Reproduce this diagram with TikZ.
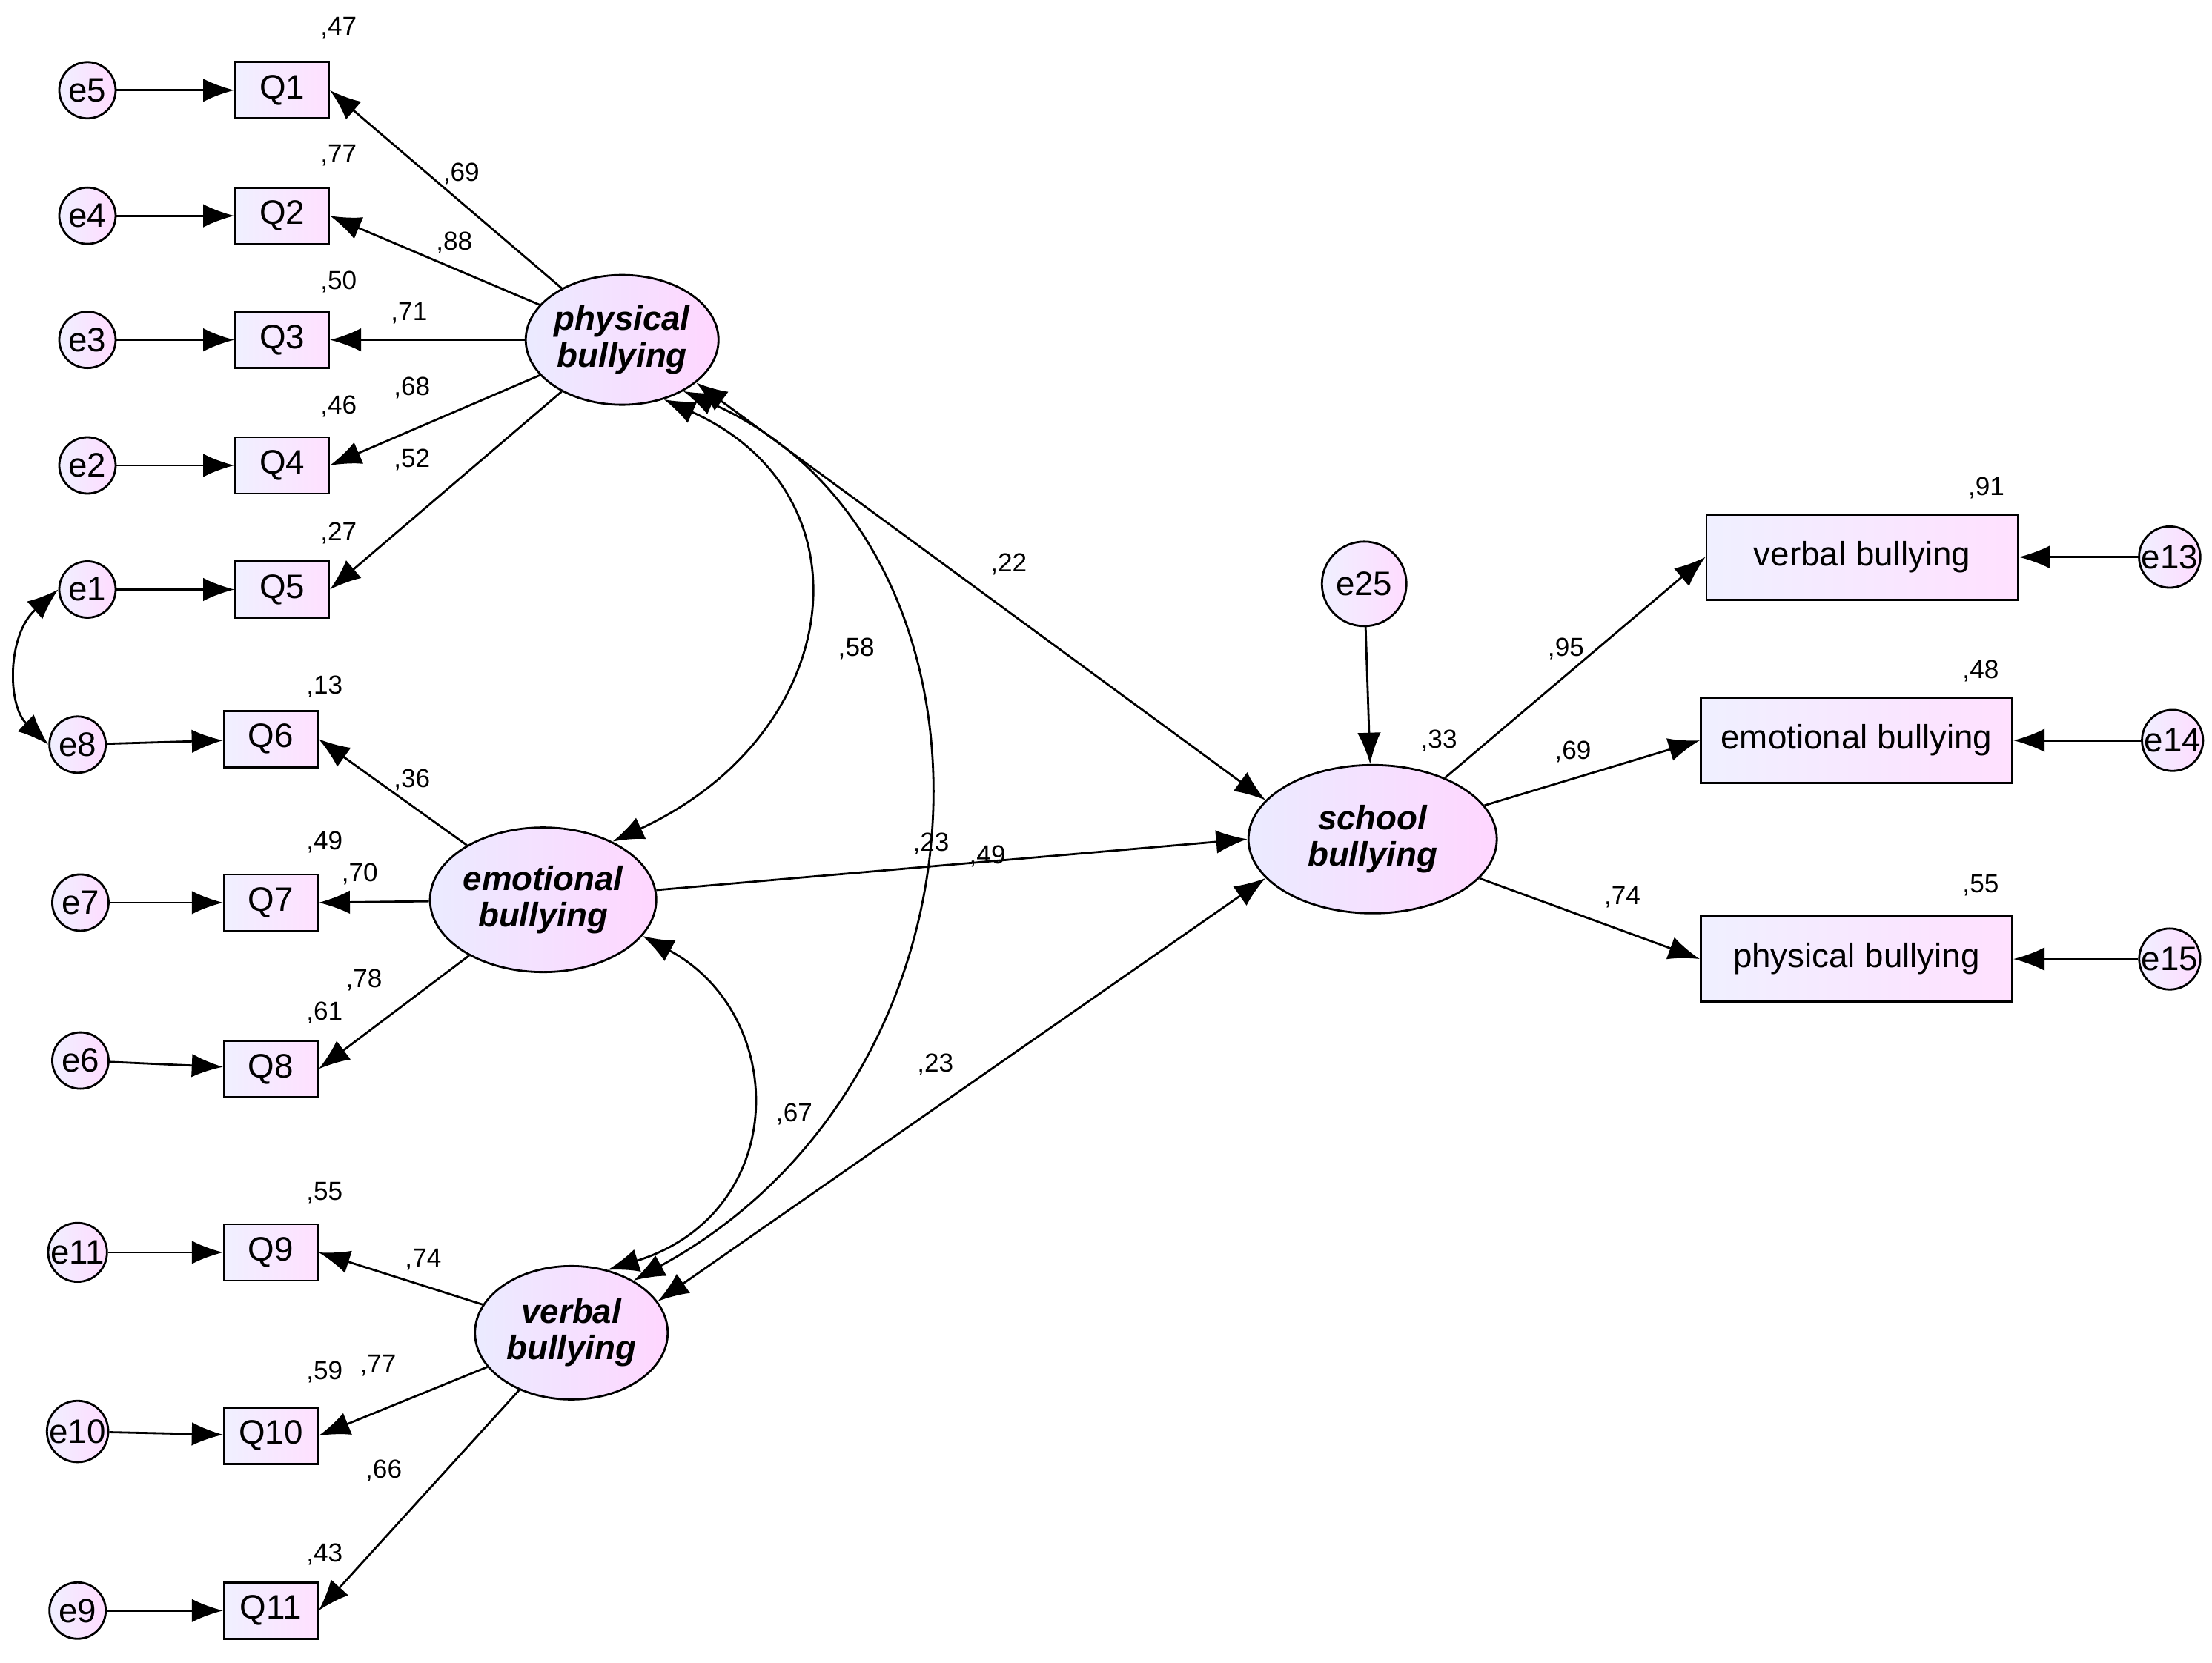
\documentclass[tikz,border=0pt]{standalone}
\usepackage{fontspec}
\setmainfont{Liberation Sans}
\usetikzlibrary{arrows.meta,shapes.geometric}
\begin{document}
\begin{tikzpicture}[x=0.01903cm, y=-0.01903cm,
    obs/.style={draw, thick, rectangle, left color=blue!6, right color=magenta!12, minimum width=1.26cm, minimum height=0.76cm, font=\fontsize{13}{13}\selectfont},
    big/.style={obs, minimum width=4.2cm, minimum height=1.15cm},
    err/.style={draw, thick, circle, left color=blue!6, right color=magenta!14, minimum size=0.76cm, inner sep=0pt, font=\fontsize{13}{13}\selectfont},
    lat/.style={draw, thick, ellipse, left color=blue!8, right color=magenta!16, align=center, inner sep=0pt, font=\fontsize{13}{14}\selectfont\bfseries\itshape},
    num/.style={font=\fontsize{10}{10}\selectfont},
    arr/.style={-{Latex[length=12pt,width=9pt]}, thick},
    dbl/.style={{Latex[length=12pt,width=9pt]}-{Latex[length=12pt,width=9pt]}, thick}
]
\useasboundingbox (0,0) rectangle (1568,1179);

% latent variables
\node[lat, minimum width=2.6cm, minimum height=1.75cm] (phys) at (441,241) {physical\\bullying};
\node[lat, minimum width=2.95cm, minimum height=1.95cm] (emot) at (385,638) {emotional\\bullying};
\node[lat, minimum width=2.6cm, minimum height=1.8cm] (verb) at (405,945) {verbal\\bullying};
\node[lat, minimum width=3.35cm, minimum height=2.0cm] (school) at (973,595) {school\\bullying};
\node[err, minimum size=1.14cm] (e25) at (967,414) {e25};

% items
\foreach \q/\e/\ex/\qx/\y/\ey in {1/5/62/200/64/64, 2/4/62/200/153/153, 3/3/62/200/241/241, 4/2/62/200/330/330, 5/1/62/200/418/418, 6/8/55/192/524/528, 7/7/57/192/640/640, 8/6/57/192/758/752, 9/11/55/192/888/888, 10/10/55/192/1018/1015, 11/9/55/192/1142/1142}{
    \node[obs] (Q\q) at (\qx,\y) {Q\q};
    \node[err] (e\e) at (\ex,\ey) {e\e};
    \draw[arr] (e\e) -- (Q\q);
}

% loadings
\foreach \q in {1,...,5} \draw[arr] (phys) -- (Q\q.east);
\foreach \q in {6,7,8} \draw[arr] (emot) -- (Q\q.east);
\foreach \q in {9,10,11} \draw[arr] (verb) -- (Q\q.east);

% second order
\node[big] (rv) at (1320,395) {verbal bullying};
\node[big] (re) at (1316,525) {emotional bullying};
\node[big] (rp) at (1316,680) {physical bullying};
\node[err] (e13) at (1538,395) {e13};
\node[err] (e14) at (1540,525) {e14};
\node[err] (e15) at (1538,680) {e15};
\draw[arr] (school) -- (rv.west);
\draw[arr] (school) -- (re.west);
\draw[arr] (school) -- (rp.west);
\draw[arr] (e13) -- (rv);
\draw[arr] (e14) -- (re);
\draw[arr] (e15) -- (rp);
\draw[arr] (e25) -- (school);

% structural paths
\draw[dbl] (phys.-30) -- (school.160);
\draw[arr] (emot) -- (school.180);
\draw[dbl] (verb.20) -- (school.200);

% covariances
\draw[dbl] (phys.-55) .. controls (620,350) and (600,520) .. (emot.40);
\draw[dbl] (phys.-40) .. controls (720,380) and (720,760) .. (verb.40);
\draw[dbl] (emot.-20) .. controls (560,720) and (560,860) .. (verb.60);
\draw[dbl] (e1.west) .. controls (5,450) and (5,500) .. (e8.west);

% labels
\foreach \x/\y/\t in {327/123/69, 322/172/88, 290/222/71, 292/275/68, 292/326/52, 292/553/36, 255/620/70, 258/695/78, 300/893/74, 268/968/77, 272/1043/66,
  240/20/47, 240/110/77, 240/200/50, 240/288/46, 240/378/27, 230/487/13, 230/597/49, 230/718/61, 230/846/55, 230/973/59, 230/1102/43,
  607/460/58, 563/790/67, 663/755/23, 660/598/23, 700/607/49, 715/400/22, 1020/525/33, 1110/460/95, 1115/533/69, 1150/636/74, 1408/346/91, 1404/476/48, 1404/628/55}
  \node[num] at (\x,\y) {,\t};
\end{tikzpicture}
\end{document}
